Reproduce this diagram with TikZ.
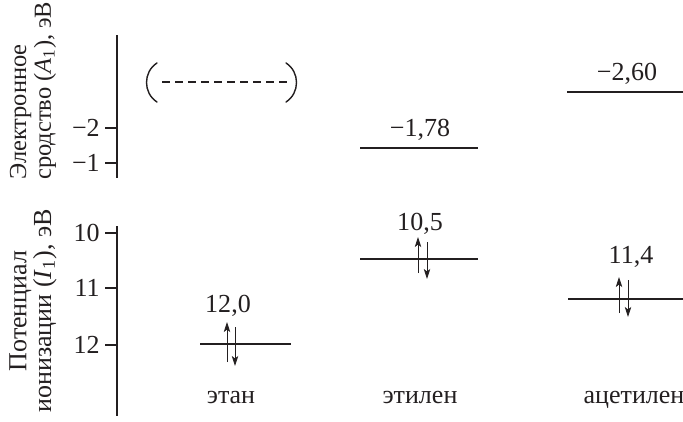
\documentclass[tikz,border=0pt]{standalone}
\usepackage{fontspec}
\setmainfont{Liberation Serif}
\usepackage{xcolor}
\usepackage{tikz}
\usetikzlibrary{arrows.meta}
\definecolor{EnInk}{HTML}{231F20}

\tikzset{
  lvl/.style={EnInk,line width=1.4pt},
  axisline/.style={EnInk,line width=1pt},
  spin/.style={EnInk,line width=0.6pt,-{Stealth[length=2.5mm,width=1.6mm,inset=0.6mm]}},
  lbl/.style={EnInk,font=\fontsize{18.5}{17.7}\selectfont,inner sep=0pt},
  gapline/.style={EnInk,line width=1pt,dash pattern=on 0.205cm off 0.12cm},
  paren/.style={EnInk,line width=1pt,line cap=round},
}

\begin{document}
\begin{tikzpicture}[x=0.025cm,y=-0.025cm]
\path[use as bounding box] (0,0) rectangle (683,421);
% axis titles
\node[lbl,font=\fontsize{17.4}{17.7}\selectfont,rotate=90,align=left,anchor=west] (eaTitle) at (33,180) {Электронное\\сродство (\textit{A}\textsubscript{1}), эВ};
\node[lbl,rotate=90,align=center,anchor=center] (ipTitle) at (33,311) {Потенциал\\ионизации (\textit{I}\textsubscript{1}), эВ};
% electron affinity axis
\draw[axisline] (117,35) -- (117,178);
\draw[axisline] (105,128) -- (117,128);
\node[lbl,anchor=east] (eaTwo) at (100,128) {−2};
\draw[axisline] (105,163) -- (117,163);
\node[lbl,anchor=east] (eaOne) at (100,163) {−1};
% ionisation potential axis
\draw[axisline] (117,226) -- (117,416);
\draw[axisline] (105,233) -- (117,233);
\node[lbl,anchor=east] (ipTen) at (100,233) {10};
\draw[axisline] (105,288) -- (117,288);
\node[lbl,anchor=east] (ipEleven) at (100,288) {11};
\draw[axisline] (105,345) -- (117,345);
\node[lbl,anchor=east] (ipTwelve) at (100,345) {12};
% ethane
\draw[paren] (157,63) .. controls (143,72) and (143,93) .. (157,102);
\draw[paren] (286,63) .. controls (300,72) and (300,93) .. (286,102);
\coordinate (dashL) at (162,82);
\coordinate (dashR) at (287,82);
\draw[gapline] (dashL) -- (dashR);
\coordinate (etanL) at (200,344);
\coordinate (etanR) at (291,344);
\draw[lvl] (etanL) -- (etanR);
\node[lbl,anchor=base] (etanI) at (228,312) {12,0};
\coordinate (etanUpA) at (227,362);
\coordinate (etanUpB) at (227,322);
\coordinate (etanDnA) at (235,327);
\coordinate (etanDnB) at (235,366);
\draw[spin] (etanUpA) -- (etanUpB);
\draw[spin] (etanDnA) -- (etanDnB);
\node[lbl,anchor=base] (etanName) at (231,403) {этан};
% ethylene
\coordinate (etilAL) at (360,148);
\coordinate (etilAR) at (478,148);
\draw[lvl] (etilAL) -- (etilAR);
\node[lbl,anchor=base] (etilA) at (420,136) {−1,78};
\coordinate (etilL) at (360,259);
\coordinate (etilR) at (478,259);
\draw[lvl] (etilL) -- (etilR);
\node[lbl,anchor=base] (etilI) at (420,230) {10,5};
\coordinate (etilUpA) at (418,273);
\coordinate (etilUpB) at (418,237);
\coordinate (etilDnA) at (427,242);
\coordinate (etilDnB) at (427,279);
\draw[spin] (etilUpA) -- (etilUpB);
\draw[spin] (etilDnA) -- (etilDnB);
\node[lbl,anchor=base] (etilName) at (420,403) {этилен};
% acetylene
\coordinate (acetAL) at (567,92);
\coordinate (acetAR) at (683,92);
\draw[lvl] (acetAL) -- (acetAR);
\node[lbl,anchor=base] (acetA) at (627,80) {−2,60};
\coordinate (acetL) at (568,299);
\coordinate (acetR) at (683,299);
\draw[lvl] (acetL) -- (acetR);
\node[lbl,anchor=base] (acetI) at (631,263) {11,4};
\coordinate (acetUpA) at (619,313);
\coordinate (acetUpB) at (619,277);
\coordinate (acetDnA) at (628,280);
\coordinate (acetDnB) at (628,317);
\draw[spin] (acetUpA) -- (acetUpB);
\draw[spin] (acetDnA) -- (acetDnB);
\node[lbl,anchor=base] (acetName) at (634,403) {ацетилен};
\end{tikzpicture}
\end{document}
